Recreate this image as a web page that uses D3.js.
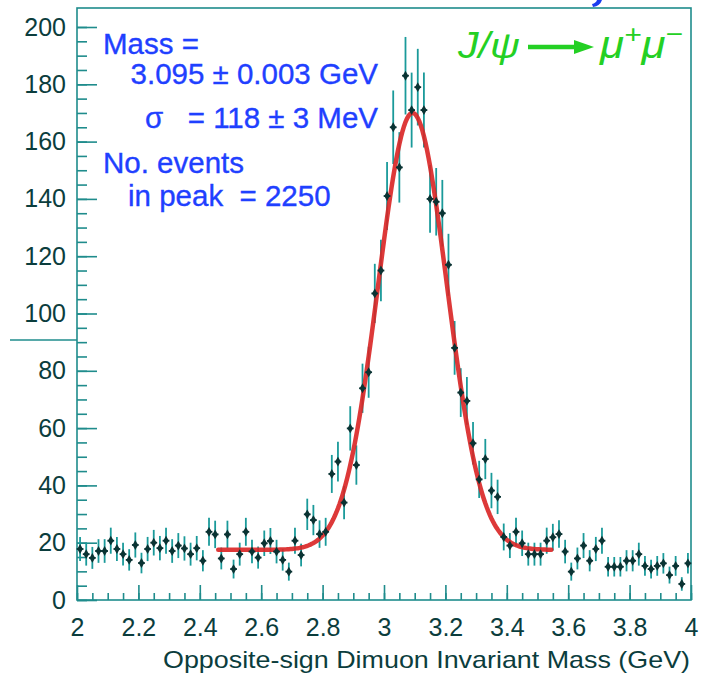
<!DOCTYPE html>
<html>
<head>
<meta charset="utf-8">
<script src="https://cdn.jsdelivr.net/npm/d3@7"></script>
<style>
  html, body { margin: 0; padding: 0; background: #ffffff; }
  svg { display: block; }
</style>
</head>
<body>
<svg id="chart" width="704" height="675"></svg>
<script>
// ---- data ----
const binLow = 2.0;
const binWidth = 0.02;
const counts = [
  17.8, 16, 14.7, 17.1, 17.1, 20.7, 17.8, 16, 14, 19.2,
  12.9, 17.8, 20, 18.1, 20.7, 17.1, 19, 18, 16, 18.1,
  13.7, 23.8, 22.9, 14.5, 22.9, 10.8, 16, 23.8, 16.9, 14.8,
  19.8, 20.6, 16.9, 14, 9.9, 20.7, 15.7, 29.9, 27.9, 23,
  23.8, 44, 48.3, 34, 59.9, 47.1, 73.9, 79.5, 107, 115,
  141, 165, 151, 183, 171, 179, 171, 140, 139, 135,
  117, 88, 72.4, 69.5, 54.7, 42.1, 49.2, 38.2, 36, 22,
  19, 23.8, 19.8, 16, 16, 16, 20.7, 21.9, 23, 16.9,
  9.9, 14.5, 19, 13.7, 17.8, 20.7, 11.6, 11.6, 11.6, 13.7,
  13.7, 16, 11.9, 10.8, 11.9, 12.8, 8.7, 11.9, 5.6, 12.8
];
// fit parameters (Gaussian + flat background)
const fitMean = 3.093;
const fitSigma = 0.112;
const fitAmp = 152.5;
const fitBackground = 17.5;
const fitRange = [2.46, 3.545];

const xMajorTicks = [2, 2.2, 2.4, 2.6, 2.8, 3, 3.2, 3.4, 3.6, 3.8, 4];
const yMajorTicks = [0, 20, 40, 60, 80, 100, 120, 140, 160, 180, 200];
const xTitle = "Opposite-sign Dimuon Invariant Mass (GeV)";
const infoLines = ["Mass =", "3.095 \u00b1 0.003 GeV", "= 118 \u00b1 3 MeV", "No. events", "in peak \u00a0= 2250"];

// ---- drawing ----
const svg = d3.select("#chart");
const L = 77, R = 691, T = 8, B = 600;
const x = d3.scaleLinear().domain([2, 4]).range([L, R]);
const y = d3.scaleLinear().domain([0, 200]).range([B, 27]);

const axisCol = "#1f8c8c";
const labCol = "#0b3d3d";
const font = "'Liberation Sans', Arial, Helvetica, sans-serif";

// stray line on left
svg.append("line").attr("x1", 10).attr("x2", L).attr("y1", 340).attr("y2", 340)
  .attr("stroke", axisCol).attr("stroke-width", 1.6);

// fragment of a cut-off title at the very top
svg.append("path").attr("d", "M597,0 L602,0 Q600,6 593,7 L592,4 Q596,3 597,0 Z")
  .attr("fill", "#1a3cf0");

// frame
svg.append("rect").attr("x", L).attr("y", T).attr("width", R - L).attr("height", B - T)
  .attr("fill", "none").attr("stroke", axisCol).attr("stroke-width", 1.6);

// y axis: minor and major ticks
const yMinor = d3.range(0, 201, 5);
const gyMinor = svg.append("g").attr("transform", `translate(${L},0)`)
  .call(d3.axisLeft(y).tickValues(yMinor).tickSize(-10).tickFormat(""));
const gy = svg.append("g").attr("transform", `translate(${L},0)`)
  .call(d3.axisLeft(y).tickValues(yMajorTicks).tickSize(-20).tickPadding(11));
// x axis
const xMinor = d3.range(0, 41).map(i => 2 + i * 0.05);
const gxMinor = svg.append("g").attr("transform", `translate(0,${B})`)
  .call(d3.axisBottom(x).tickValues(xMinor).tickSize(-7).tickFormat(""));
const gx = svg.append("g").attr("transform", `translate(0,${B})`)
  .call(d3.axisBottom(x).tickValues(xMajorTicks).tickSize(-15).tickPadding(18)
    .tickFormat(d3.format("~g")));

[gyMinor, gy, gxMinor, gx].forEach(g => {
  g.select(".domain").remove();
  g.selectAll(".tick line").attr("stroke", axisCol).attr("stroke-width", 1.6);
  g.selectAll(".tick text").attr("fill", labCol).attr("font-family", font).attr("font-size", 25);
});

// axis title
svg.append("text").attr("x", 690).attr("y", 668).attr("text-anchor", "end")
  .attr("font-family", font).attr("font-size", 24).attr("fill", labCol)
  .attr("textLength", 527).attr("lengthAdjust", "spacingAndGlyphs")
  .text(xTitle);

// data
const pts = counts.map((c, i) => ({ m: binLow + (i + 0.5) * binWidth, c }));

// error bars
svg.append("g").selectAll("line").data(pts).join("line")
  .attr("x1", d => x(d.m)).attr("x2", d => x(d.m))
  .attr("y1", d => y(d.c + Math.sqrt(d.c))).attr("y2", d => y(Math.max(0, d.c - Math.sqrt(d.c))))
  .attr("stroke", "#1a9a9a").attr("stroke-width", 1.8);

// fit curve
const fitXs = d3.range(0, 218).map(i => fitRange[0] + i * (fitRange[1] - fitRange[0]) / 217);
const fitFn = m => fitBackground + fitAmp * Math.exp(-((m - fitMean) ** 2) / (2 * fitSigma * fitSigma));
svg.append("path")
  .datum(fitXs)
  .attr("d", d3.line().x(m => x(m)).y(m => y(fitFn(m))).curve(d3.curveLinear))
  .attr("fill", "none").attr("stroke", "#d92424").attr("stroke-width", 4.5)
  .attr("stroke-opacity", 0.9).attr("stroke-linecap", "round");

// markers
const gm = svg.append("g");
gm.selectAll("line").data(pts).join("line")
  .attr("x1", d => x(d.m) - 3.4).attr("x2", d => x(d.m) + 3.4)
  .attr("y1", d => y(d.c)).attr("y2", d => y(d.c))
  .attr("stroke", "#0a3333").attr("stroke-width", 1.8);
gm.selectAll("path").data(pts).join("path")
  .attr("transform", d => `translate(${x(d.m)},${y(d.c)})`)
  .attr("d", d3.symbol(d3.symbolDiamond, 28))
  .attr("fill", "#0a3333");

// info text (blue)
const blue = "#1f40ff";
const info = svg.append("g").attr("font-family", font).attr("font-size", 29.5).attr("fill", blue)
  .attr("stroke", blue).attr("stroke-width", 0.35);
info.append("text").attr("x", 103).attr("y", 54).text(infoLines[0]);
info.append("text").attr("x", 378).attr("y", 84).attr("text-anchor", "end").text(infoLines[1]);
info.append("text").attr("x", 145).attr("y", 128).text("\u03c3");
info.append("text").attr("x", 378).attr("y", 128).attr("text-anchor", "end").text(infoLines[2]);
info.append("text").attr("x", 103).attr("y", 173).text(infoLines[3]);
info.append("text").attr("x", 128).attr("y", 206).text(infoLines[4]);

// decay label (green)
const green = "#24d024";
const dl = svg.append("g").attr("font-family", font).attr("fill", green);
dl.append("text").attr("x", 458).attr("y", 58).attr("font-size", 36).attr("font-style", "italic")
  .attr("textLength", 62).attr("lengthAdjust", "spacingAndGlyphs").text("J/\u03c8");
dl.append("line").attr("x1", 528).attr("x2", 578).attr("y1", 47).attr("y2", 47)
  .attr("stroke", green).attr("stroke-width", 4.5);
dl.append("path").attr("d", "M574,40 L594,47 L574,54 Z").attr("fill", green);
const mu = dl.append("text").attr("x", 600).attr("y", 58).attr("font-size", 38).attr("font-style", "italic")
  .attr("textLength", 83).attr("lengthAdjust", "spacingAndGlyphs");
mu.append("tspan").text("\u03bc");
mu.append("tspan").attr("dy", -15).attr("font-size", 26).text("+");
mu.append("tspan").attr("dy", 15).text("\u03bc");
mu.append("tspan").attr("dy", -15).attr("font-size", 26).text("\u2212");
</script>
</body>
</html>
